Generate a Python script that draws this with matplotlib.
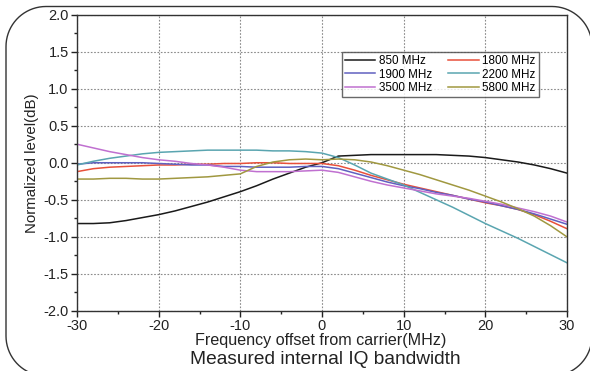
import matplotlib
matplotlib.use("Agg")
import numpy as np
import matplotlib.pyplot as plt
from matplotlib.patches import PathPatch
from matplotlib.path import Path
from matplotlib.ticker import MultipleLocator

plt.rcParams['font.family'] = ['Liberation Sans', 'DejaVu Sans']

freq = [-30, -28, -26, -24, -22, -20, -18, -16, -14, -12, -10, -8, -6, -4, -2,
        0, 2, 4, 6, 8, 10, 12, 14, 16, 18, 20, 22, 24, 26, 28, 30]

mhz850 = [-0.82, -0.82, -0.81, -0.78, -0.74, -0.70, -0.65, -0.59, -0.53, -0.46,
          -0.39, -0.31, -0.22, -0.14, -0.06, 0.00, 0.09, 0.10, 0.11, 0.11,
          0.11, 0.11, 0.11, 0.10, 0.09, 0.07, 0.04, 0.01, -0.03, -0.08, -0.14]
mhz1800 = [-0.12, -0.08, -0.06, -0.05, -0.04, -0.03, -0.03, -0.02, -0.02, -0.01,
           -0.01, 0.00, 0.00, -0.01, -0.01, -0.01, -0.04, -0.10, -0.17, -0.23,
           -0.29, -0.34, -0.39, -0.44, -0.49, -0.54, -0.58, -0.63, -0.70, -0.79, -0.89]
mhz1900 = [-0.02, 0.00, 0.00, 0.00, 0.00, -0.01, -0.02, -0.03, -0.03, -0.05,
           -0.05, -0.06, -0.06, -0.06, -0.05, -0.05, -0.08, -0.14, -0.20, -0.26,
           -0.31, -0.35, -0.40, -0.44, -0.49, -0.53, -0.58, -0.63, -0.69, -0.76, -0.83]
mhz2200 = [-0.03, 0.02, 0.06, 0.09, 0.12, 0.14, 0.15, 0.16, 0.17, 0.17,
           0.17, 0.17, 0.16, 0.16, 0.15, 0.13, 0.07, -0.03, -0.14, -0.22,
           -0.30, -0.40, -0.50, -0.60, -0.71, -0.82, -0.92, -1.02, -1.13, -1.24, -1.35]
mhz3500 = [0.25, 0.20, 0.15, 0.11, 0.07, 0.04, 0.02, -0.01, -0.03, -0.06,
           -0.10, -0.12, -0.12, -0.12, -0.11, -0.10, -0.13, -0.19, -0.25, -0.30,
           -0.34, -0.38, -0.42, -0.45, -0.48, -0.52, -0.56, -0.61, -0.66, -0.72, -0.80]
mhz5800 = [-0.22, -0.22, -0.21, -0.21, -0.22, -0.22, -0.21, -0.20, -0.19, -0.17,
           -0.15, -0.05, 0.01, 0.04, 0.05, 0.04, 0.05, 0.04, 0.01, -0.04,
           -0.10, -0.16, -0.23, -0.30, -0.37, -0.45, -0.53, -0.62, -0.72, -0.85, -1.00]

labels = ['850 MHz', '1800 MHz', '1900 MHz', '2200 MHz', '3500 MHz', '5800 MHz']
series = [mhz850, mhz1800, mhz1900, mhz2200, mhz3500, mhz5800]
colors = ['#1a1a1a', '#e8503a', '#6060c0', '#5aa5b0', '#c070d0', '#a09840']

xticks = [-30, -20, -10, 0, 10, 20, 30]
yticks = [-2.0, -1.5, -1.0, -0.5, 0.0, 0.5, 1.0, 1.5, 2.0]

W, H = 590, 371
fig = plt.figure(figsize=(W/100, H/100), dpi=100)
ax = fig.add_axes([77/W, 1-311/H, 490/W, 296.5/H])

handles = {}
for ys, lab, c in zip(series, labels, colors):
    ln, = ax.plot(freq, ys, color=c, lw=1.1, label=lab)
    handles[lab] = ln

ax.set_xlim(-30, 30)
ax.set_ylim(-2.0, 2.0)
ax.set_xticks(xticks)
ax.set_xticklabels([f"{t:d}" for t in xticks])
ax.set_yticks(yticks)
ax.set_yticklabels([f"{t:.1f}" for t in yticks])
ax.xaxis.set_minor_locator(MultipleLocator(5))
ax.yaxis.set_minor_locator(MultipleLocator(0.25))
ax.tick_params(which='major', direction='out', length=4, width=1, colors='#222222', labelsize=10.5)
ax.tick_params(which='minor', direction='out', length=2.5, width=1, colors='#222222')
ax.tick_params(axis='x', pad=2)
ax.tick_params(axis='y', pad=2)
ax.grid(True, which='major', linestyle=(0, (1.5, 1.5)), color='#8a8a8a', lw=0.8)
for s in ax.spines.values():
    s.set_color('#333333')
    s.set_linewidth(1.0)

# row-major legend order (850,1800 / 1900,2200 / 3500,5800)
order = ['850 MHz', '1900 MHz', '3500 MHz', '1800 MHz', '2200 MHz', '5800 MHz']
leg = ax.legend([handles[k] for k in order], order,
                loc='upper left', bbox_to_anchor=(0.541, 0.874), ncol=2,
                fontsize=8.4, frameon=True, fancybox=False, edgecolor='#444444',
                handlelength=2.6, handletextpad=0.3, columnspacing=1.4,
                labelspacing=0.15, borderpad=0.25, borderaxespad=0)
leg.get_frame().set_linewidth(1.0)

ax.set_ylabel('Normalized level(dB)', fontsize=10.8, color='#222222', labelpad=3)
fig.text(321/W, 1-341/H, 'Frequency offset from carrier(MHz)', ha='center', va='center',
         fontsize=11.6, color='#222222')
fig.text(325/W, 1-360/H, 'Measured internal IQ bandwidth', ha='center', va='center',
         fontsize=13.8, color='#222222')

# rounded outer frame (pixel coords, origin top-left), partly beyond the canvas
x0, y0, x1, y1, r = 6.0, 6.5, 592.0, 376.0, 40.0
def arc(cx, cy, a0, a1, n=20):
    t = np.linspace(np.radians(a0), np.radians(a1), n)
    return np.column_stack([cx + r*np.cos(t), cy + r*np.sin(t)])
pts = np.vstack([
    arc(x0 + r, y0 + r, 180, 270),
    arc(x1 - r, y0 + r, 270, 360),
    arc(x1 - r, y1 - r, 0, 90),
    arc(x0 + r, y1 - r, 90, 180),
    [[x0, y0 + r]],
])
pts_fig = np.column_stack([pts[:, 0]/W, 1 - pts[:, 1]/H])
frame = PathPatch(Path(pts_fig), transform=fig.transFigure, fill=False,
                  edgecolor='#333333', lw=1.0, clip_on=False)
fig.patches.append(frame)

fig.savefig('out.png', dpi=100)
